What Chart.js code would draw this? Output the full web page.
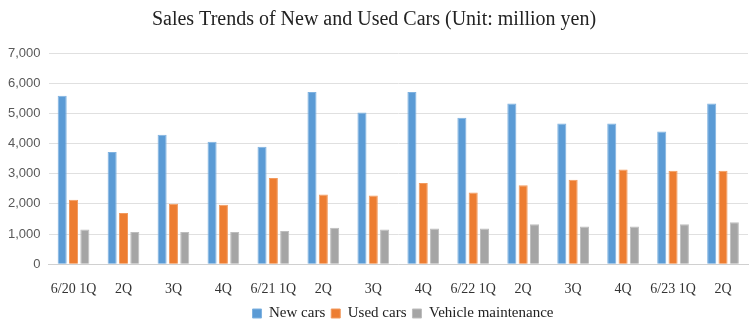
<!DOCTYPE html>
<html lang="en">
<head>
    <meta charset="UTF-8">
    <title>Sales Trends of New and Used Cars</title>
    <script src="https://cdn.jsdelivr.net/npm/chart.js@4"></script>
    <style>
        html, body { margin: 0; padding: 0; background: #fff; }
        #wrap { width: 754px; height: 332px; }
    </style>
</head>
<body>
    <div id="wrap"><canvas id="chart" width="754" height="332"></canvas></div>
    <script>
        const quarters = ['6/20 1Q', '2Q', '3Q', '4Q', '6/21 1Q', '2Q', '3Q', '4Q',
                          '6/22 1Q', '2Q', '3Q', '4Q', '6/23 1Q', '2Q'];
        const newCars = [5580, 3720, 4290, 4060, 3890, 5710, 5030, 5710, 4850, 5330, 4660, 4660, 4400, 5330];
        const usedCars = [2140, 1700, 2000, 1970, 2860, 2310, 2280, 2690, 2380, 2620, 2800, 3140, 3100, 3100];
        const maintenance = [1150, 1070, 1070, 1070, 1100, 1210, 1150, 1180, 1180, 1320, 1250, 1250, 1320, 1390];

        const serif = '"Liberation Serif", "Times New Roman", serif';

        // the legend in the picture sits a bit right of centre and close under the labels
        const legendShift = {
            id: 'legendShift',
            afterLayout(chart) {
                chart.legend.left += 29;
                chart.legend.right += 29;
                chart.legend.top -= 7;
                chart.legend.bottom -= 7;
            }
        };

        const ctx = document.getElementById('chart');

        new Chart(ctx, {
            type: 'bar',
            data: {
                labels: quarters,
                datasets: [
                    { label: 'New cars', data: newCars, backgroundColor: '#5B9BD5', borderColor: '#7FB2E0', borderWidth: 1 },
                    { label: 'Used cars', data: usedCars, backgroundColor: '#ED7D31', borderColor: '#F29A5E', borderWidth: 1 },
                    { label: 'Vehicle maintenance', data: maintenance, backgroundColor: '#A5A5A5', borderColor: '#BDBDBD', borderWidth: 1 }
                ]
            },
            plugins: [legendShift],
            options: {
                responsive: false,
                animation: false,
                layout: { padding: { left: 0, right: 6, top: 4, bottom: -6 } },
                datasets: {
                    bar: { categoryPercentage: 0.68, barPercentage: 0.8 }
                },
                plugins: {
                    title: {
                        display: true,
                        text: 'Sales Trends of New and Used Cars (Unit: million yen)',
                        color: '#222',
                        font: { family: serif, size: 20, weight: 'normal' },
                        padding: { top: 4, bottom: 21 }
                    },
                    legend: {
                        position: 'bottom',
                        labels: {
                            color: '#222',
                            boxWidth: 9,
                            boxHeight: 9,
                            padding: 6,
                            font: { family: serif, size: 15 }
                        }
                    },
                    tooltip: { enabled: false }
                },
                scales: {
                    x: {
                        grid: { display: false },
                        border: { color: '#d0d0d0' },
                        ticks: {
                            color: '#333',
                            font: { family: serif, size: 14 },
                            maxRotation: 0,
                            autoSkip: false,
                            padding: 9
                        }
                    },
                    y: {
                        min: 0,
                        max: 7000,
                        grid: { color: '#e0e0e0', drawTicks: false },
                        border: { display: false },
                        ticks: {
                            stepSize: 1000,
                            color: '#595959',
                            padding: 8,
                            font: { family: '"Liberation Sans", Arial, sans-serif', size: 13 },
                            callback: v => v.toLocaleString('en-US')
                        }
                    }
                }
            }
        });
    </script>
</body>
</html>
